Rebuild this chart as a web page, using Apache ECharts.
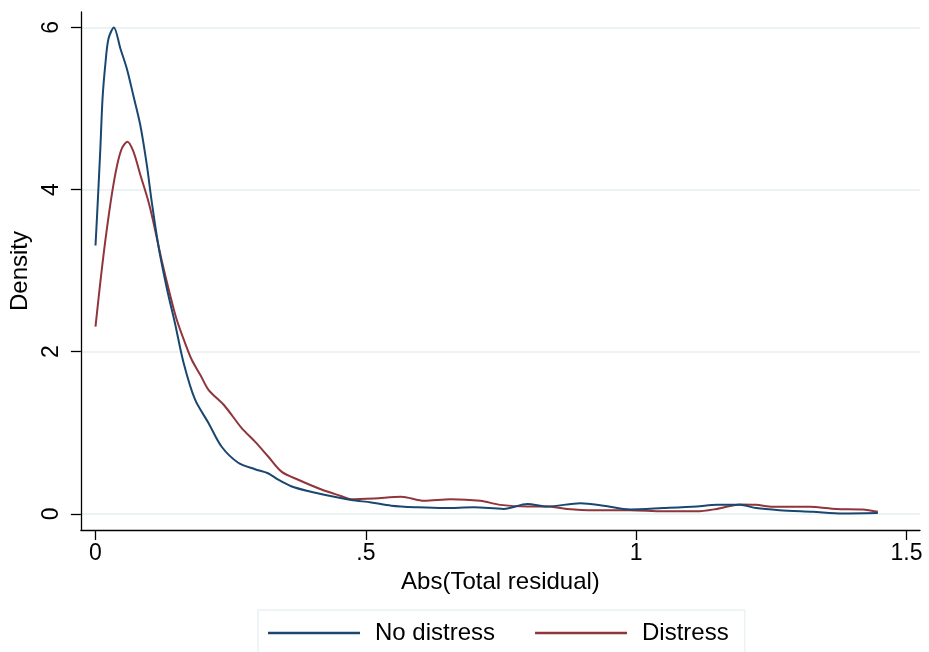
<!DOCTYPE html>
<html>
<head>
<meta charset="utf-8">
<script src="https://cdn.jsdelivr.net/npm/echarts@6/dist/echarts.min.js"></script>
<style>
  html, body { margin: 0; padding: 0; background: #fff; }
  #main { width: 929px; height: 652px; }
</style>
</head>
<body>
<div id="main"></div>
<script>
// kernel density
var noDistressX = [0, 0.003, 0.009, 0.013, 0.018, 0.024, 0.034, 0.046, 0.058, 0.070, 0.083, 0.095, 0.104, 0.117, 0.132, 0.147, 0.163, 0.184, 0.209, 0.233, 0.264, 0.295, 0.319, 0.338, 0.362, 0.393, 0.430, 0.473, 0.510, 0.547, 0.596, 0.645, 0.700, 0.755, 0.799, 0.835, 0.897, 0.940, 0.989, 1.050, 1.112, 1.149, 1.192, 1.222, 1.265, 1.327, 1.382, 1.447];
var noDistressY = [3.31, 3.69, 4.51, 5.12, 5.53, 5.86, 6.00, 5.74, 5.49, 5.16, 4.79, 4.30, 3.85, 3.28, 2.78, 2.35, 1.86, 1.41, 1.12, 0.83, 0.63, 0.55, 0.50, 0.42, 0.34, 0.28, 0.225, 0.17, 0.14, 0.10, 0.08, 0.07, 0.08, 0.06, 0.12, 0.09, 0.13, 0.10, 0.053, 0.07, 0.09, 0.11, 0.11, 0.07, 0.045, 0.025, 0.005, 0.01];

var distressX = [0, 0.009, 0.018, 0.030, 0.040, 0.049, 0.059, 0.070, 0.083, 0.098, 0.107, 0.123, 0.138, 0.150, 0.166, 0.178, 0.195, 0.209, 0.239, 0.270, 0.295, 0.319, 0.344, 0.375, 0.418, 0.454, 0.473, 0.516, 0.565, 0.608, 0.657, 0.712, 0.749, 0.799, 0.835, 0.872, 0.921, 0.989, 1.050, 1.112, 1.149, 1.192, 1.222, 1.253, 1.321, 1.370, 1.419, 1.447];
var distressY = [2.31, 2.86, 3.36, 3.93, 4.30, 4.51, 4.59, 4.47, 4.18, 3.85, 3.60, 3.11, 2.70, 2.40, 2.10, 1.90, 1.70, 1.53, 1.33, 1.06, 0.89, 0.71, 0.52, 0.42, 0.30, 0.22, 0.18, 0.19, 0.21, 0.16, 0.18, 0.16, 0.11, 0.09, 0.09, 0.06, 0.045, 0.045, 0.03, 0.03, 0.06, 0.115, 0.11, 0.086, 0.086, 0.06, 0.053, 0.025];

var xTicks = [0, 0.5, 1, 1.5];
var xTickLabels = ['0', '.5', '1', '1.5'];
var yTicks = [0, 2, 4, 6];
var seriesNames = ['No distress', 'Distress'];

function pairs(xs, ys) {
    var out = [];
    for (var i = 0; i < xs.length; i++) out.push([xs[i], ys[i]]);
    return out;
}

var font = 'Liberation Sans, Arial, sans-serif';
var chart = echarts.init(document.getElementById('main'));

var option = {
    animation: false,
    backgroundColor: '#ffffff',
    textStyle: { fontFamily: font, color: '#000' },
    grid: { left: 79, right: 9, top: 12, bottom: 122 },
    legend: {
        data: seriesNames,
        left: 258,
        top: 610,
        orient: 'horizontal',
        padding: [11, 16, 40, 10],
        icon: 'rect',
        itemWidth: 92,
        itemHeight: 2.5,
        itemGap: 40,
        backgroundColor: '#ffffff',
        borderColor: '#eaf2f3',
        borderWidth: 1.5,
        textStyle: { fontSize: 24, color: '#000', fontFamily: font, padding: [0, 0, 0, 10] }
    },
    xAxis: {
        type: 'value',
        min: -0.027,
        max: 1.525,
        name: 'Abs(Total residual)',
        nameLocation: 'middle',
        nameGap: 38,
        nameTextStyle: { fontSize: 24, color: '#000', fontFamily: font },
        axisLine: { show: true, onZero: false, lineStyle: { color: '#000', width: 1.3 } },
        axisTick: { show: true, length: 10, customValues: xTicks, lineStyle: { color: '#000', width: 1.3 } },
        axisLabel: {
            customValues: xTicks,
            margin: 12,
            fontSize: 23,
            color: '#000',
            fontFamily: font,
            formatter: function (v) { return xTickLabels[xTicks.indexOf(v)]; }
        },
        splitLine: { show: false }
    },
    yAxis: {
        type: 'value',
        min: -0.2,
        max: 6.19,
        name: 'Density',
        nameLocation: 'middle',
        nameGap: 46,
        nameTextStyle: { fontSize: 24, color: '#000', fontFamily: font },
        axisLine: { show: true, onZero: false, lineStyle: { color: '#000', width: 1.3 } },
        axisTick: { show: true, length: 10, customValues: yTicks, lineStyle: { color: '#000', width: 1.3 } },
        axisLabel: {
            customValues: yTicks,
            rotate: 90,
            margin: 18,
            fontSize: 23,
            color: '#000',
            fontFamily: font
        },
        splitLine: { show: true, lineStyle: { color: '#e6eff1', width: 1.5 } }
    },
    series: [
        {
            name: seriesNames[0],
            type: 'line',
            data: pairs(noDistressX, noDistressY),
            smooth: 0.3,
            symbol: 'none',
            lineStyle: { color: '#1a476f', width: 2 },
            itemStyle: { color: '#1a476f' },
            z: 3
        },
        {
            name: seriesNames[1],
            type: 'line',
            data: pairs(distressX, distressY),
            smooth: 0.3,
            symbol: 'none',
            lineStyle: { color: '#90353b', width: 2 },
            itemStyle: { color: '#90353b' },
            z: 2
        }
    ]
};

chart.setOption(option);
</script>
</body>
</html>
